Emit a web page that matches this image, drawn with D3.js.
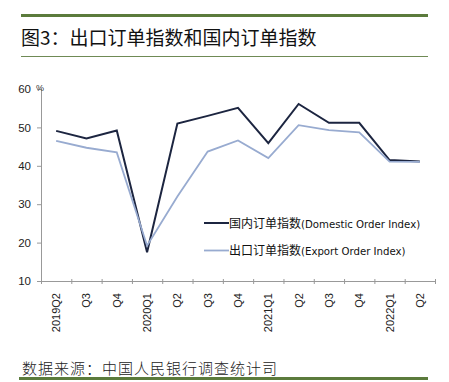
<!DOCTYPE html>
<html><head><meta charset="utf-8">
<script src="https://cdn.jsdelivr.net/npm/d3@7"></script>
<style>
body{margin:0;background:#fff;}
svg{display:block;}
</style></head>
<body>
<svg id="chart" width="449" height="382"></svg>
<script>
const categories = ["2019Q2","Q3","Q4","2020Q1","Q2","Q3","Q4","2021Q1","Q2","Q3","Q4","2022Q1","Q2"];
const domestic = [49.1,47.1,49.2,17.5,51.0,53.0,55.1,45.9,56.1,51.2,51.2,41.5,41.1];
const exportIdx = [46.5,44.7,43.5,19.2,32.0,43.7,46.6,42.0,50.6,49.3,48.7,41.1,41.0];
const yTicks = [10,20,30,40,50,60];
const seriesNames = ["国内订单指数(Domestic Order Index)","出口订单指数(Export Order Index)"];
const title = "图3：出口订单指数和国内订单指数";
const source = "数据来源：中国人民银行调查统计司";

(function(){
const svg = d3.select("#chart");
const green = "#5b7b3c";
const cjk = "'Noto Sans CJK SC','Noto Sans',sans-serif";

// header rules
svg.append("rect").attr("x",21).attr("y",14).attr("width",407).attr("height",3).attr("fill",green);
svg.append("rect").attr("x",21).attr("y",56).attr("width",407).attr("height",1).attr("fill","#6f8a55");
svg.append("text").attr("x",21).attr("y",45).attr("font-family",cjk).attr("font-size",19)
  .attr("font-weight",400).attr("fill","#111").text(title);

// footer
svg.append("text").attr("x",22).attr("y",374).attr("font-family",cjk).attr("font-size",15)
  .attr("letter-spacing",1).attr("font-weight",300).attr("fill","#222").text(source);
svg.append("rect").attr("x",19).attr("y",377).attr("width",409).attr("height",3).attr("fill",green);

const mLeft = 41, mRight = 435, mTop = 89, mBottom = 281;
const x = d3.scaleBand().domain(d3.range(categories.length)).range([mLeft,mRight]);
const y = d3.scaleLinear().domain([10,60]).range([mBottom,mTop]);

// y axis
const yAxis = svg.append("g").attr("transform",`translate(${mLeft},0)`)
  .call(d3.axisLeft(y).tickValues(yTicks).tickSize(4).tickPadding(6));
yAxis.select(".domain").attr("stroke","#999");
yAxis.selectAll(".tick line").attr("stroke","#999");
yAxis.selectAll("text").attr("font-family","'Liberation Sans',Arial,sans-serif").attr("font-size",11.5).attr("fill","#222");
svg.append("text").attr("x",36).attr("y",91).attr("font-family","'Liberation Sans',Arial,sans-serif")
  .attr("font-size",9).attr("fill","#333").text("%");

// x axis
const xTickScale = d3.scaleLinear().domain([0,categories.length]).range([mLeft,mRight]);
const xAxis = svg.append("g").attr("transform",`translate(0,${mBottom})`)
  .call(d3.axisBottom(xTickScale).tickValues(d3.range(categories.length+1)).tickSize(3).tickFormat(""));
xAxis.select(".domain").attr("stroke","#999");
xAxis.selectAll(".tick line").attr("stroke","#999").attr("y1",-2);
svg.append("g").selectAll("text").data(categories).join("text")
  .attr("transform",(d,i)=>`translate(${x(i)+x.bandwidth()/2+4},${mBottom+12}) rotate(-90)`)
  .attr("text-anchor","end")
  .attr("font-family","'Liberation Sans',Arial,sans-serif").attr("font-size",11).attr("fill","#222")
  .text(d=>d);

// lines
const line = d3.line().x((d,i)=>x(i)+x.bandwidth()/2).y(d=>y(d));
const colors = ["#1c2540","#98abd0"];
[domestic, exportIdx].forEach((s,k)=>{
  svg.append("path").datum(s).attr("d",line).attr("fill","none")
    .attr("stroke",colors[k]).attr("stroke-width",k===0?2:1.8).attr("stroke-linejoin","miter");
});

// legend
seriesNames.forEach((n,k)=>{
  const ly = 223 + k*27.5;
  svg.append("line").attr("x1",204).attr("x2",229).attr("y1",ly).attr("y2",ly)
    .attr("stroke",colors[k]).attr("stroke-width",k===0?2:1.8);
  const t = svg.append("text").attr("x",229).attr("y",ly+4.5).attr("font-family",cjk).attr("font-size",12).attr("fill","#111");
  const idx = n.indexOf("(");
  t.append("tspan").text(n.slice(0,idx));
  t.append("tspan").attr("font-family","'DejaVu Sans Condensed','Liberation Sans Narrow',sans-serif").attr("font-size",11.3).text(n.slice(idx));
});
})();
</script>
</body></html>
